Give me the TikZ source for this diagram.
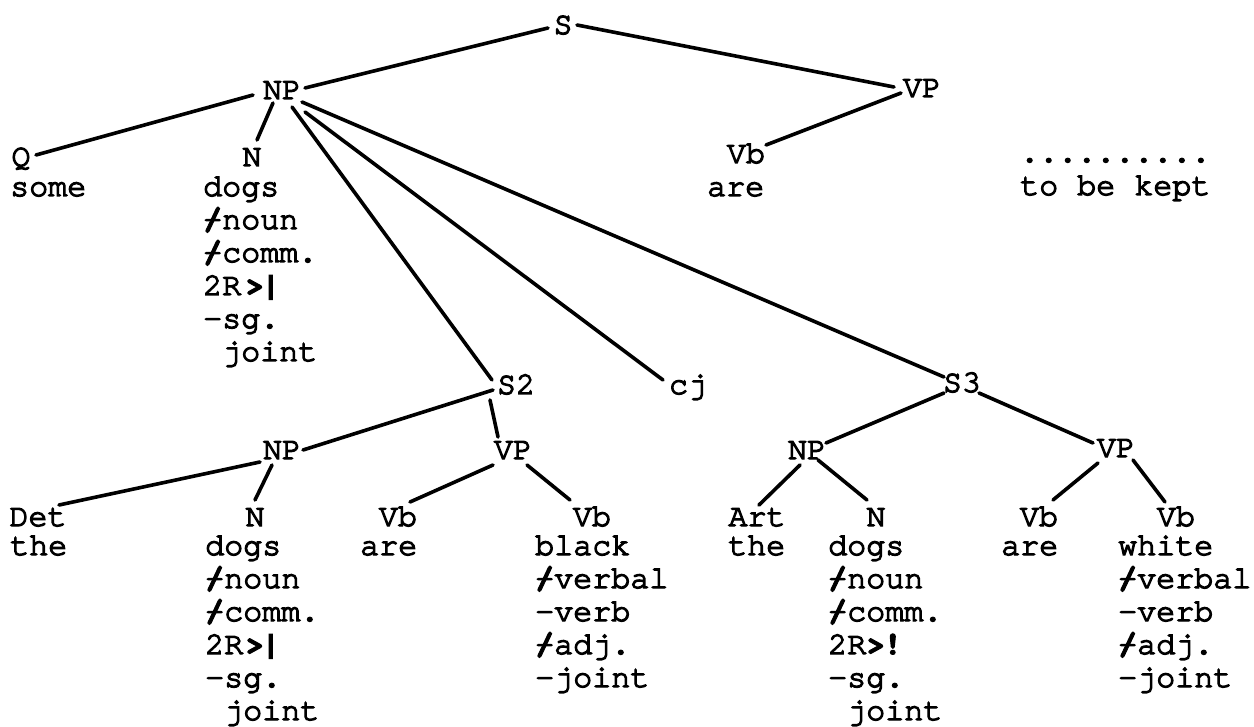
\documentclass[tikz,border=0pt]{standalone}
\usepackage{fontspec}
\usetikzlibrary{calc}
\newfontfamily\tw{texgyrecursor-regular.otf}[FakeBold=4]
\newfontfamily\twb{texgyrecursor-bold.otf}[FakeBold=3]
\newcommand\xs{\rlap{\twb/}-}
\newcommand\stk[1]{\vtop{\baselineskip=33pt\lineskiplimit=-100pt\lineskip=0pt\halign{##\hfil\cr#1\crcr}}}
\tikzset{
  txt/.style={font=\tw\fontsize{31.7}{33}\selectfont, inner sep=0pt},
  lab/.style={txt, anchor=base},
  stack/.style={txt, anchor=base west},
  con/.style={line width=3.6pt, line cap=round}
}
\begin{document}
\begin{tikzpicture}[x=1pt,y=-1pt]
\useasboundingbox[fill=white] (0,0) rectangle (1254,727);
% ---- labels
\node[lab] (S)   at (563,34)  {S};
\node[lab] (NP1) at (282,99)  {NP};
\node[lab] (VP1) at (922,97)  {VP};
\node[lab] (Q)   at (21,166)  {Q};
\node[lab] (N1)  at (252,166) {N};
\node[lab] (Vb1) at (746,163) {Vb};
\node[lab] (S2)  at (516,394) {S2};
\node[lab] (cj)  at (688,394) {cj};
\node[lab] (S3)  at (962,392) {S3};
\node[lab] (NP2) at (282,459) {NP};
\node[lab] (VP2) at (513,459) {VP};
\node[lab] (NP3) at (807,459) {NP};
\node[lab] (VP3) at (1116,457) {VP};
\node[lab] (Det) at (38,526)  {Det};
\node[lab] (N2)  at (255,526) {N};
\node[lab] (Vb2) at (398,526) {Vb};
\node[lab] (Vb3) at (592,526) {Vb};
\node[lab] (Art) at (757,526) {Art};
\node[lab] (N3)  at (876,526) {N};
\node[lab] (Vb4) at (1039,526) {Vb};
\node[lab] (Vb5) at (1176,526) {Vb};
% ---- word stacks
\node[stack] (dots)  at (1020,162) {\stk{..........\cr to be kept}};
\node[stack] (some)  at (10,196)   {\stk{some}};
\node[stack] (dogs1) at (203,196)  {\stk{dogs\cr \xs noun\cr \xs comm.\cr 2R\kern4pt{\twb>}\kern-3pt{\twb|}\cr -sg.\cr \hphantom{x}joint}};
\node[stack] (are1)  at (707,196)  {\stk{are}};
\node[stack] (the1)  at (10,555)   {\stk{the}};
\node[stack] (dogs2) at (205,555)  {\stk{dogs\cr \xs noun\cr \xs comm.\cr 2R\kern2pt{\twb>}\kern-3pt{\twb|}\cr -sg.\cr \hphantom{x}joint}};
\node[stack] (are2)  at (360,555)  {\stk{are}};
\node[stack] (black) at (535,555)  {\stk{black\cr \xs verbal\cr -verb\cr \xs adj.\cr -joint}};
\node[stack] (the2)  at (728,555)  {\stk{the}};
\node[stack] (dogs3) at (828,555)  {\stk{dogs\cr \xs noun\cr \xs comm.\cr 2R{\twb>}\kern-2pt{\twb!}\cr -sg.\cr \hphantom{x}joint}};
\node[stack] (are3)  at (1001,555) {\stk{are}};
\node[stack] (white) at (1118,555) {\stk{white\cr \xs verbal\cr -verb\cr \xs adj.\cr -joint}};
% ---- connectors
\draw[con] ($(S.base)+(-15,-6)$) -- ($(NP1.base)+(23,-11)$);
\draw[con] ($(S.base)+(14,-9)$) -- ($(VP1.base)+(-28,-10)$);
\draw[con] ($(NP1.base)+(-29,-4)$) -- ($(Q.base)+(15,-11)$);
\draw[con] ($(NP1.base)+(-9,4)$) -- ($(N1.base)+(5,-26)$);
\draw[con] ($(NP1.base)+(10,8)$) -- ($(S2.base)+(-24,-14)$);
\draw[con] ($(NP1.base)+(23,13)$) -- ($(cj.base)+(-25,-14)$);
\draw[con] ($(NP1.base)+(20,3)$) -- ($(S3.base)+(-18,-15)$);
\draw[con] ($(VP1.base)+(-21,-4)$) -- ($(Vb1.base)+(20,-18)$);
\draw[con] ($(S2.base)+(-23,-4)$) -- ($(NP2.base)+(21,-9)$);
\draw[con] ($(S2.base)+(-26,6)$) -- ($(VP2.base)+(-15,-22)$);
\draw[con] ($(NP2.base)+(-22,3)$) -- ($(Det.base)+(21,-21)$);
\draw[con] ($(NP2.base)+(-10,6)$) -- ($(N2.base)+(0,-26)$);
\draw[con] ($(VP2.base)+(-20,6)$) -- ($(Vb2.base)+(12,-24)$);
\draw[con] ($(VP2.base)+(14,6)$) -- ($(Vb3.base)+(-22,-26)$);
\draw[con] ($(S3.base)+(-18,1)$) -- ($(NP3.base)+(19,-16)$);
\draw[con] ($(S3.base)+(17,1)$) -- ($(VP3.base)+(-23,-14)$);
\draw[con] ($(NP3.base)+(-7,6)$) -- ($(Art.base)+(2,-21)$);
\draw[con] ($(NP3.base)+(11,1)$) -- ($(N3.base)+(-9,-26)$);
\draw[con] ($(VP3.base)+(-18,6)$) -- ($(Vb4.base)+(14,-26)$);
\draw[con] ($(VP3.base)+(17,3)$) -- ($(Vb5.base)+(-11,-24)$);
\end{tikzpicture}
\end{document}
